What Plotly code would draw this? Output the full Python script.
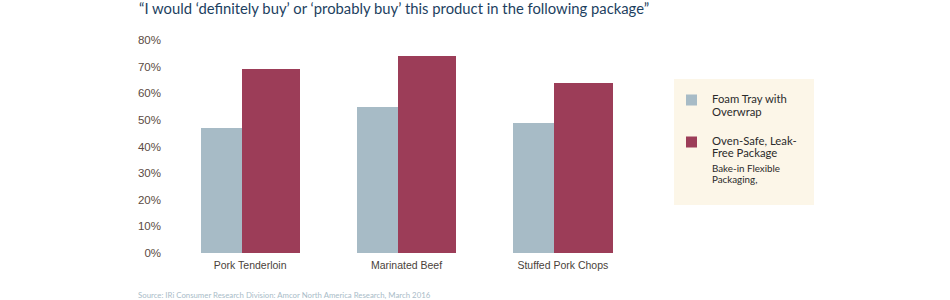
import plotly.graph_objects as go

categories = ["Pork Tenderloin", "Marinated Beef", "Stuffed Pork Chops"]
foam_tray = [0.47, 0.55, 0.49]
oven_safe = [0.69, 0.74, 0.64]
series_names = ["Foam Tray with<br>Overwrap", "Oven-Safe, Leak-<br>Free Package"]
tick_vals = [0, 0.1, 0.2, 0.3, 0.4, 0.5, 0.6, 0.7, 0.8]
tick_text = ["0%", "10%", "20%", "30%", "40%", "50%", "60%", "70%", "80%"]

W, H = 950, 300
L, R, T, B = 172, 309, 40, 47
PW, PH = W - L - R, H - T - B

def px(x):
    return (x - L) / PW

def py(y):
    return (H - B - y) / PH

C_LIGHT = "#A7BBC6"
C_RED = "#9C3D58"

fig = go.Figure()
fig.add_trace(go.Bar(x=categories, y=foam_tray, name=series_names[0],
                     marker=dict(color=C_LIGHT, line=dict(width=0)),
                     width=0.263, offset=-0.317, showlegend=False))
fig.add_trace(go.Bar(x=categories, y=oven_safe, name=series_names[1],
                     marker=dict(color=C_RED, line=dict(width=0)),
                     width=0.372, offset=-0.054, showlegend=False))

shapes = [
    dict(type="rect", xref="paper", yref="paper", x0=px(674), x1=px(814), y0=py(205), y1=py(79),
         fillcolor="#FCF6E8", line=dict(width=0), layer="below"),
    dict(type="rect", xref="paper", yref="paper", x0=px(686), x1=px(697), y0=py(105.5), y1=py(94.5),
         fillcolor=C_LIGHT, line=dict(width=0)),
    dict(type="rect", xref="paper", yref="paper", x0=px(686), x1=px(697), y0=py(147.5), y1=py(136.5),
         fillcolor=C_RED, line=dict(width=0)),
]

def ann(text, x, y, size, color, family="Lato"):
    return dict(text=text, x=px(x), y=py(y), xref="paper", yref="paper", xanchor="left", yanchor="middle",
                showarrow=False, font=dict(family=family, size=size, color=color))

LEG = "#2B2B2B"
annotations = [
    ann("“I would ‘definitely buy’ or ‘probably buy’ this product in the following package”", 137, 8.5, 14.8, "#1D3F5F"),
    ann("Foam Tray with", 710, 98.5, 11.3, LEG),
    ann("Overwrap", 710, 111, 11.3, LEG),
    ann("Oven-Safe, Leak-", 710, 140, 11.3, LEG),
    ann("Free Package", 710, 152, 11.3, LEG),
    ann("Bake-in Flexible", 710, 167.5, 9.8, LEG),
    ann("Packaging,", 710, 179, 9.8, LEG),
    ann("Source: IRi Consumer Research Division: Amcor North America Research, March 2016", 136, 295, 7.8, "#A9BCC8"),
]

fig.update_layout(
    width=W, height=H, margin=dict(l=L, r=R, t=T, b=B),
    paper_bgcolor="white", plot_bgcolor="white",
    barmode="overlay", bargap=0,
    shapes=shapes, annotations=annotations,
    xaxis=dict(range=[-0.5, 2.5], showgrid=False, zeroline=False, showline=False, ticks="",
               ticklabelstandoff=4,
               tickfont=dict(family="Liberation Sans", size=10.5, color="#4A3F3A")),
    yaxis=dict(range=[0, 0.8], tickvals=tick_vals, ticktext=tick_text, showgrid=False, zeroline=False,
               showline=False, ticks="", ticklabelstandoff=10,
               tickfont=dict(family="Liberation Sans", size=11.5, color="#5B4B43")),
)

fig.write_html("out.html")
